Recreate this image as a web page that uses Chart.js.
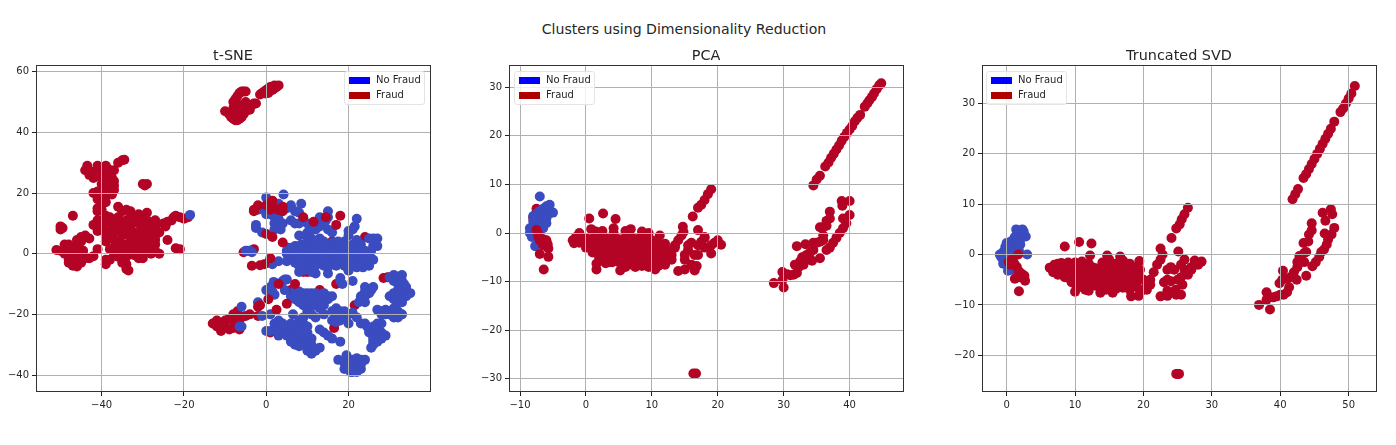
<!DOCTYPE html>
<html>
<head>
<meta charset="utf-8">
<title>Clusters using Dimensionality Reduction</title>
<script src="https://cdn.jsdelivr.net/npm/chart.js@4/dist/chart.umd.min.js"></script>
<style>
    html, body { margin: 0; padding: 0; background: #fff; width: 1396px; height: 445px; overflow: hidden; font-family: "DejaVu Sans", sans-serif; }
    body { filter: blur(0.35px); }
    canvas { position: absolute; top: 45px; }
    #suptitle { position: absolute; left: 0; width: 1368px; top: 20px; text-align: center; font-size: 14.1px; line-height: 18px; color: #262626; }
    .legend { position: absolute; top: 71px; width: 79px; height: 32px; background: rgba(255,255,255,0.8); border: 1px solid #e4e4e4; border-radius: 3px; font-size: 10px; color: #262626; }
    .legend i { position: absolute; left: 4px; width: 21px; height: 7px; }
    .legend span { position: absolute; left: 31px; line-height: 12px; }
</style>
</head>
<body>
<div id="suptitle">Clusters using Dimensionality Reduction</div>
<canvas id="tsne-chart" width="440" height="375" style="left:0"></canvas>
<canvas id="pca-chart" width="440" height="375" style="left:473px"></canvas>
<canvas id="svd-chart" width="440" height="375" style="left:946px"></canvas>
<div class="legend" style="left:344px"><i style="top:5px;background:#0000ff"></i><span style="top:2px">No Fraud</span><i style="top:20px;background:#b00000"></i><span style="top:17px">Fraud</span></div>
<div class="legend" style="left:514px"><i style="top:5px;background:#0000ff"></i><span style="top:2px">No Fraud</span><i style="top:20px;background:#b00000"></i><span style="top:17px">Fraud</span></div>
<div class="legend" style="left:986px"><i style="top:5px;background:#0000ff"></i><span style="top:2px">No Fraud</span><i style="top:20px;background:#b00000"></i><span style="top:17px">Fraud</span></div>
<script>
// axis limits and tick labels
const tsneXRange = [-55.96, 39.8];
const tsneYRange = [-45.6, 61.8];
const tsneXTicks = [-40, -20, 0, 20];
const tsneYTicks = [-40, -20, 0, 20, 40, 60];
const pcaXRange = [-11.67, 48.1];
const pcaYRange = [-32.7, 34.3];
const pcaXTicks = [-10, 0, 10, 20, 30, 40];
const pcaYTicks = [-30, -20, -10, 0, 10, 20, 30];
const svdXRange = [-3.6, 54];
const svdYRange = [-27.3, 37.4];
const svdXTicks = [0, 10, 20, 30, 40, 50];
const svdYTicks = [-20, -10, 0, 10, 20, 30];

// t-SNE
const tsneFraudBack = [
    [-1.5,52.5],[-1,53],[-0.5,53.5],[0,54],[0.5,54.5],[1,55],[1.5,55],[2,55.5],[2.5,55],[3,55.5],[1.5,54],[0.5,53],[2,54.5],[-0.2,52.8],
    [-10,47],[-9,46],[-8.5,45],[-8,44.5],[-7.5,44],[-7,44],[-6.5,44.5],[-6,45],[-5.5,46],[-5,47],[-4.5,48],[-4,48.5],[-3.5,49],[-3,49.5],[-2.5,49.5],
    [-8,50],[-7.5,51],[-7,52],[-6.5,53],[-6,53.5],[-5.5,53.5],[-5,53.5],[-8,48],[-7.5,47],[-7,46],[-6.5,48],[-6,49],[-7,49],[-5,50],[-4,47.5],
    [-43.5,29],[-44,27.5],[-43,26],[-42,25],[-41,29],[-40,27],[-39,29],[-38.5,28],[-38,26],[-37,27.5],[-36,30],[-35,30.8],[-34.5,31],[-38,25],[-37,24],[-39,24],[-40,23],[-38,22],[-37,21],[-40,21],[-41,20.5],[-42,20],[-38,20],[-37.5,19.5],[-39,19],[-41,18],[-40,17.5],[-39,17],
    [-37.5,25],[-39,26],[-37,22.5],[-38.5,21],[-40,25],[-42,27],
    [-30,23],[-29,23],[-29.5,22.5],[-41,15],[-41,14],[-40,14.5],[-36,15.5],[-47,12.5],[-50,9],[-50,8],[-49.5,8.5],
    [-42,9.5],[-41,11],[-41,9],[-41,7.5],[-40,8.5],[-39,12.5],[-39,10],[-39,8],[-39,6],[-39,4],[-38,12],[-36,12],[-35,14],[-34,14.5],[-33,14],[-33,12],[-32,11],[-31,13],[-29,13.5],[-29,11],[-28,9],[-27,11],[-27,9],[-35,10],[-36,8],[-35,6],[-37,7],[-36,4],[-33,9],[-32,7],[-30,8],[-28,6.5],[-27,6],[-26,7],[-33,5],[-31,5],[-29,4],[-28,3],[-27,3],[-32,3],[-34,3],[-33,2],[-31,2],[-29,2],[-35,1],[-33,0],[-30,0.5],[-28,0],[-26,0],
    [-34,11],[-31,10],[-30,6],[-32,5],[-30,3],[-34,1],[-32,1],[-36,0],[-37,2],[-38,9],[-37,11],[-29,7],[-27,4.5],[-32,-0.5],
    [-30,11],[-33,7],[-31,7],[-29,9],[-35,8],[-35,3],[-30,9],[-37,9],[-38,6],[-37,4.5],[-40,11],[-29,1],[-31,-1],[-27,1],[-27.5,4],
    [-24,4.5],[-25,10],[-24,10.5],[-23,11],[-22.5,12],[-22,12.5],[-21,12],[-20,11.5],[-19,12],[-22,1.8],[-21,1.5],[-24.5,9],
    [-41,1.5],[-38,1.5],[-37,1],[-38,-2],[-39,-2],[-39,-3.5],[-37,-0.5],[-36,-1],[-35,-1.5],[-34,-1],[-35,-3],[-34,-3.5],[-34,-5],[-33.5,-5.5],[-31,-1.5],[-30,-1.5],
    [-51,1.2],[-50,1],[-49,3],[-48,3],[-48,1.5],[-49,0],[-48,-2],[-47,-4],[-46,-3.5],[-47,-2],[-47,0],[-45,-0.5],[-46,1.5],[-44.5,1],[-44,-1.5],[-45,-3],[-43,-1.5],[-42,-0.8],[-46,4.5],[-45,5.5],[-44,6],[-43,5],[-46,-2],
    [-48,-3],[-46,-1],[-45,1],[-49,2],[-47,2],[-47.5,-1],[-46,-4.2],[-45,4],
    [-13,-23],[-12,-22],[-12,-24],[-11,-25.5],[-10,-24],[-10,-22],[-9,-21.5],[-9,-25],[-8,-24.5],[-8,-22],[-8,-20],[-7,-19],[-7,-23],[-6,-21],[-5,-20.5],[-4,-20],[-6.5,-25],[-11,-23],
    [-5.5,0.5],[-3,1.5],[9,-6],[10,-6],[16.5,-24.5],[21.5,-17],[28.5,-8],[29.5,-7.8],[24,5.5],[16,4],[20,-5.5],[1,-26],[-2,-20.5],[17,-10],[13,-12],[6,-12]
];
const tsneNoFraud = [
    [-18.5,12.8],[4.2,19.5],[0,18.5],[0.5,16],[8.5,16.5],[6,16],[3,16.5],[5,15],[7,14],[8,13.5],[-2,14.5],[-1,15],[0,13],[1,13],[2,12],[3,11.5],[2,10],[3,9],[3.5,8],[2,8],[-2.5,9.5],[-2.5,8.5],[-1,7],
    [4,10],[6,11],[7,10],[8,10],[9,11],[10,10],[13,12],[15,14],[15,12],[14.5,11],[14,10],[13,9],[12,8],[11,8],[10,7],[22,11.5],[21.5,9],[21,8],[20,7.5],[20,6],[15,8],[16,7],[8,6],[9.5,6],[11,5],[13,5],[14,4],
    [26,5],[27,5],[25,5],[22,4.5],[21,3],[19,4],[18,3],[26,2.5],[27,2.5],[25.5,1],
    [5,1],[6,1],[7,1],[8,1],[9,1],[10,2],[11,2],[12,2],[13,1],[14,1],[15,2],[16,2],[17,1],[18,2],[19,1.5],[20,1],[21,1],[22,2],[23,3],
    [6,-1],[7,-1],[8,-1],[9,-1.5],[10,-1],[11,-1],[12,-1],[13,-1],[14,-1.5],[15,-1],[16,-1],[17,-0.5],[18,-1],[19,-1],[20,-1],[21,-1],[22,-1],
    [7,-3],[9,-3],[11,-3],[13,-3],[14,-4],[16,-3],[18,-3],[19,-4],[21,-3],[23,-4],[24,-3],[25,-2],[26,-2],[24,-1],[23.5,-4.5],[25,-4],[22,-4.5],
    [5,0],[6.5,0],[8,0],[9.5,0],[11,0],[12.5,0],[14,0],[15.5,0],[17,0],[18.5,0],[20,0],[21.5,0],[5.5,2],[7,2.5],[8.5,3],[10,3.5],[12,3.5],[14,3],[16,3.5],[17.5,4],[19,3],[20.5,2.5],
    [8,-2],[10,-2],[12,-2],[14,-2],[15,-3],[17,-2],[19,-2],[21,-2],[23,-2],[22,0.5],[23,0.5],[24,1],[8,-4],[10,-4.5],[12,-4],[15,-4.5],[17,-4],
    [3,-2.5],[5,-2.5],[1.5,-3.5],[0.5,-3],[-5,1],[-4.5,1],[-4,1],[-3.5,0.5],
    [8,-6],[9,-5.5],[12,-6.5],[11,-6],[15,-6.5],[20,-5.5],[18,-8],[18,-9],[18.5,-10],[21,-9],[1.8,-9.3],[4,-9],[4.5,-8.5],
    [30,-7.8],[31,-7],[32,-7.5],[33,-7],[33,-9],[33.5,-10],[32,-9],[31,-9],[32,-12],[31,-13],[31,-15],[33,-14],[34,-14],[35,-13],[34,-12.5],[32,-14],[29,-20],[30,-19],[29,-18.5],[31,-18],[32,-19],[33,-20],[31,-21],[27,-18.5],[28,-20],[32,-21],
    [32,-16],[33,-16],[30,-20],[31,-19.5],[32,-10],[33,-11],[34,-11],[30,-14],[28,-19],
    [25,-13],[24,-14],[23,-15],[24,-16],[22.5,-16],[26,-11],[25.5,-12],[24,-11],[23,-14],[24,-12.5],
    [0,-12],[1,-11],[1.5,-12.5],[2,-13.5],[5,-8.5],[4.5,-12],[6,-14],[7,-13],[8,-12.5],[9,-13],[10,-13],[11,-13],[12,-13],[13,-14],[14,-13],[15,-14],[16,-14],[7,-15],[9,-15],[11,-15],[13,-15],[15,-15],[9,-17],[10,-18],[12,-17],[14,-17],[8,-16],[13,-18],[10,-19],[11,-20],[12,-21],[14,-20],
    [7,-12],[9,-14],[11,-14],[13,-16],[10,-16],[12,-15.5],[11,-17],
    [-6,-17.5],[-6,-24],[-6.5,-24],[-1,-20.5],[1,-20],[6.5,-20],[-2,-16],[0,-25.5],[1,-25.5],
    [16,-19],[17,-20],[18,-19],[19,-20],[20,-20],[17,-18],[18,-22],[16,-22],[20,-23],[17,-21],[19,-19],[21,-19.5],[22,-21],[23,-23],[17,-22.5],[19,-21],
    [2,-23],[3,-22],[4,-23],[5,-24],[3,-25],[4,-26],[3,-27],[5,-27],[6,-26],[5,-25],[7,-25],[8,-22],[9,-23],[8,-25],[9,-27],[10,-26],[7,-27],[6,-29],[7,-30],[8,-29],[9,-30],[10,-28],[11,-28],[11,-30],[10,-32],[11,-33],[12,-32],[13,-31],[9,-21],[13,-25],[14,-26],[15,-27],[16,-28],[7,-28.5],[18,-29],
    [7,-24],[4,-24.5],[6,-23],[8,-27],[10,-24],[8,-30.5],[7.5,-26],[9,-25],[6,-28],
    [24,-23],[25,-25],[26,-24],[27,-23],[28,-23],[26,-27],[25,-26],[27,-26],[28,-26],[29,-27],[27,-28],[28,-28],[26,-29],[27,-29],[25.5,-31],[26,-30],[27,-25],[26,-25.5],[24.5,-24],[26,-28],
    [19.5,-33.5],[17.5,-35],[19,-36],[20,-36],[21,-35],[22,-34.5],[23,-35],[24,-35],[19,-38],[20,-38],[21,-39],[22,-38],[23,-38],[22,-36.5],[20.5,-39],[22,-39],[21,-37],[21,-36],[20,-37],[22,-37],[23,-36.5]
];
const tsneFraudFront = [
    [-3,14.5],[-2,16],[0,16],[1.5,17.5],[2,15],[3,14.5],[4,14],[4,15.5],[-3,14],[1,14.5],[0,6.5],[1.5,5.5],[4,3.7],
    [-3.5,-4],[-1.5,-3.8],[-0.5,-3.5],[1,-1.5],[7,-10],[3,-10],[0.5,-15],[-1.5,-17],[-2,-17.5],[2.5,-18.5],[5,-16.5],
    [18,12.5],[17,9.5],[11.5,10.5],[9,12],[14.5,12]
];

// PCA
const pcaFraudBack = [[-7.5,5],[-8,3.2],[-7.5,2],[-7,2.5]];
const pcaNoFraud = [
    [-7,7.5],[-5.5,5.8],[-6,5.5],[-6.5,5],[-5,4.2],[-5.5,4],[-7,4.5],[-7.5,4],[-8,3.5],[-6,3],[-7,3],[-8,2.5],[-6,2],[-6.5,2],[-7,2],[-8,1.5],[-8.5,1],[-7.5,1],[-8.5,0],[-8,0.5],[-7,1],[-8,-0.5],[-8.2,-0.8],[-7.5,-1],[-7.7,-2.7],[-6.5,3.5],[-7.5,3],[-6.5,1]
];
const pcaFraudFront = [
    [-7.5,0.6],[-7.3,0],[-7.2,-0.8],[-7,-1],[-6.5,-1.3],[-6,-1.5],[-6,-2],[-5.8,-2.3],[-5.7,-3.2],[-7,-4.3],[-5.7,-4.9],[-6.4,-7.5],[-6.5,-2.5],[-7,-1.5],
    [0.5,3],[2.6,4],[4.5,2.9],[0.8,0.8],[1.5,0.3],[2.5,0.4],[4.2,1],[4.2,0],[6.8,0.8],[6,0.4],[8.5,0.3],[9.5,0],[11.2,-0.5],[-1,0],[-1.5,-0.8],[-2,-1.5],
    [-1,-1],[0,-1],[1,-1.2],[2,-0.8],[3,-1.1],[4,-1],[5,-1.3],[6,-0.9],[7,-1],[8,-1.2],[9,-1],[10,-1.5],
    [-1.8,-2.1],[-1,-2],[0,-2.3],[1,-2],[2,-2.2],[3,-1.9],[4,-2],[5,-2.1],[6,-2],[7,-2.3],[8,-2],[9,-2.2],[10,-2.5],[11,-3],
    [0,-3],[1,-3.2],[2,-3],[3,-3.1],[4,-3],[5,-3.2],[6,-3],[7,-3],[8,-3.3],[9,-3],[10,-3.1],[11,-2.6],[12,-3.5],[13,-3.5],
    [1,-4],[2,-4.2],[3,-4],[4,-4],[5,-4.1],[6,-4],[7,-4.2],[8,-4],[9,-4],[10,-4.1],[11,-4],[12,-4.2],[13,-4.5],
    [3,-5.2],[4,-5],[5,-5],[6,-5.2],[7,-5],[8,-5],[9,-5.1],[10,-5],[11,-5.2],[12,-5],
    [5,-6],[6,-6],[7,-6.1],[8,-6],[9,-6],[10,-6.2],[11,-6],[12,-5.9],
    [7,-6.5],[9.5,-7],[10.5,-7.5],[5.2,-7.7],[6,-6.7],[1.6,-6.3],[1.6,-7.5],
    [11.5,-4.5],[12.5,-4.5],[13.5,-3],[12,-2.2],[11,-2],[10,-6.8],[11,-6.8],[12,-6.5],[13,-5.5],[7.5,-7],[8.5,-6.8],[6,-7],[4,-6],[3,-6.2],[2,-5],[3.5,-6],
    [13.5,-2.5],[14,-1.5],[14.5,-0.5],[14.8,0.2],[14.7,1.3],[16.2,3.4],[17,5.2],[17.5,5.8],[18,6.8],[18.5,8],[19,9],
    [14,-7.8],[15,-7.5],[16,-6.5],[16.5,-7.7],[16.8,-6.8],[15,-5.5],[15,-4.5],[15.5,-3.5],[15.5,-2.5],[16,-2],[16.5,-4.5],[17,-4.5],[17,-2.5],[17.5,-1.8],[18,-1],[18,-3],[19,-4.2],[19,-2.5],[19.5,-2],[20,-1.5],[20.5,-2.4],[17,0.6],[18,-0.8],
    [16.3,-28.9],[16.7,-28.9],
    [34.5,9.8],[35,11],[35.5,11.8],[36.3,13.7],[36.8,14.5],[37.2,15.5],[37.6,16.3],[38,17.2],[38.4,18],[38.8,19],[39.2,19.8],[39.6,20.6],[40,21.3],[40.4,22],[40.8,23],[41.2,23.7],[41.6,24.3],[42.3,26],[42.7,26.7],[43,27.3],[43.4,28],[43.7,28.7],[44.1,29.6],[44.5,30.4],[44.8,30.8],
    [28.5,-10.3],[29.8,-8],[29.8,-9.7],[30,-11.2],[30.5,-8.5],[31,-8.7],[31.5,-8.6],[32,-8.2],[31.7,-6.5],[32,-2.7],[32.3,-7],[32.5,-5.8],[32.8,-5],[33,-6.5],[33.5,-5.5],[33.5,-4.5],[33.3,-2.3],[34,-4],[34.3,-5.7],[34.5,-3.5],[34.5,-2],[35,-2],[35.5,-1.8],[35.5,-5.2],[36,-1.5],[35.5,1.2],[36,1.2],[36.5,1.5],[36.5,2.5],[37,3],[37,4.4],[36,-0.5],[36.5,-3.5],[37,-3],[37.5,-2],[38,-1],[38.5,0],[39,1],[39.5,2],[40,3.7],[39,3],[38.9,5.6],[38.8,6.6],[40,6.6]
];

// Truncated SVD
const svdFraudBack = [];
const svdNoFraud = [
    [1.4,5],[2.3,5],[2.5,4.5],[2.8,3.6],[1.5,4],[2,4],[1,3],[1.5,3],[2,3],[0.5,2.5],[1,2],[1.5,2],[0,2.3],[-0.2,1.5],[0.5,1],[1,1],[1.5,1],[-0.5,0.5],[0,0],[0.5,0],[1,0],[-1,0],[-0.8,-0.5],[-0.5,-1],[0,-1],[0.5,-1],[-0.5,-1.8],[0.2,-3.2],[0.8,-3],[3,0],[2,2],[1.8,0.8],[0.5,1.5],[1.2,3.5],[0.8,2.5],[0,1]
];
const svdFraudFront = [
    [1.7,0],[0.8,-1],[0.5,-2],[1,-1.5],[1.2,-2],[1.5,-2.5],[1.8,-3.3],[2.2,-3.8],[2.6,-4.2],[1.2,-4.8],[2.7,-5.2],[1.8,-7.3],[2,-4.5],[0.3,-1.5],
    [8.5,1.6],[10.6,2.5],[12.4,2.2],[12.2,-0.2],[14.7,-0.2],[16.6,-0.4],[19.4,-1.3],[22.5,1.2],[24.1,3.3],[25.1,0.6],
    [6.3,-2.6],[7,-2],[7,-3.2],[8,-1.7],[8,-2.6],[8,-3.6],[9,-1.6],[9,-2.7],[9,-3.7],[9,-4.6],[10,-1.6],[10,-2.6],[10,-3.7],[10,-4.8],[10,-5.8],[10,-7.4],
    [11,-1.4],[11,-2.8],[11,-3.8],[11,-5],[11,-6],[12,-1.8],[12,-3],[12,-4.2],[12,-5.2],[12,-6.3],[12,-7.2],[13,-2.7],[13,-3.8],[13,-5],[13,-6.2],[13.7,-7.6],
    [14,-1.6],[14,-3],[14,-4.2],[14,-5.4],[14,-6.5],[15,-1],[15,-2.4],[15,-3.6],[15,-5],[15,-6.2],[15.5,-7.6],[16,-1.8],[16,-3],[16,-4.4],[16,-5.6],[16,-6.8],
    [17,-1.2],[17,-2.6],[17,-3.8],[17,-5],[17,-6.6],[18,-1.8],[18,-3],[18,-4.2],[18,-5.6],[18,-7],[18.2,-8.3],[19,-3.6],[19,-5],[19,-6.2],[19.3,-8.2],[19.5,-3],
    [6.8,-3.5],[7.5,-4],[8.5,-4.5],[9.5,-5.5],[7.5,-1.8],[8.5,-2],[9.5,-2.2],[10.5,-2.1],[10.5,-3.2],[10.5,-4.3],[10.5,-5.3],[10.5,-6.5],[11.5,-2],[11.5,-3.4],[11.5,-4.5],[11.5,-5.6],[11.5,-7],[12.5,-2.5],[12.5,-3.6],[12.5,-4.7],[12.5,-5.8],
    [13.5,-3.3],[13.5,-4.4],[13.5,-5.6],[14.5,-2],[14.5,-3.3],[14.5,-4.8],[14.5,-5.9],[14.5,-7],[15.5,-2],[15.5,-3],[15.5,-4.3],[15.5,-5.5],[16.5,-1.5],[16.5,-2.7],[16.5,-4],[16.5,-5.2],[16.5,-6.4],[17.5,-2],[17.5,-3.5],[17.5,-4.6],[17.5,-5.8],[18.5,-2.5],[18.5,-4],[18.5,-5],[18.5,-6.4],[19.5,-4.5],[20,-5],[19.5,-7.5],[20.5,-7],[21,-6],
    [20,-7],[20.5,-6],[21,-5],[21.5,-3.5],[22,-2],[22.5,-1],[22.8,0],
    [24.8,5.2],[25.3,6],[25.6,7],[26,8],[26.5,9.3],
    [22.5,-8.3],[23.5,-8.2],[23.5,-7.2],[24.7,-7],[24.8,-8],[25.5,-8],[23,-5.5],[23.5,-5],[24,-5.3],[23.5,-3],[24,-2.5],[24.5,-3],[25,-5],[25.5,-4.5],[25.7,-6],[25.5,-2],[26,-1],[26,-3],[26.5,-4],[27,-3],[27,-2.5],[27.5,-2],[27.5,-1.2],[28.5,-1.4],[28,-2],
    [25,-23.7],[24.8,-23.7],[25.2,-23.7],
    [41.8,11],[42.2,12],[42.6,13],[43.4,15.2],[43.8,16],[44.2,17],[44.6,18],[45,19],[45.4,20],[45.8,21],[46.2,22],[46.6,23],[47,24],[47.4,25],[47.9,26.4],[48.8,28.3],[49.2,29],[49.6,30],[50,31],[50.4,32],[50.9,33.5],
    [36.9,-10],[38,-7.5],[38,-9],[38.5,-10.9],[39,-8.5],[39.5,-8.3],[40,-8],[40.5,-8],[41,-7.5],[41.3,-6.5],[39.9,-5.7],[40.3,-5],[40.4,-3.2],[41,-4.8],[41.5,-4.5],[42,-3.5],[42.4,-5],[42.5,-2.5],[42.5,-1.5],[43,-1],[43.5,-1.5],[42.8,-0.3],[43.5,0.3],[43.8,0.5],[43.8,-4.2],[43.4,2.3],[44.1,2.6],[44.2,4],[44.6,4.8],[44.6,6.2],[44.7,-2.3],[45.2,-1.5],[45.7,-0.5],[46,0.5],[46.4,1],[46.8,2],[47,3],[47.5,4],[47.9,5.3],[46.5,4.2],[46.2,8.3],[46.6,6.7],[47.4,9],[47.6,8]
];

const RED = '#b40426';
const BLUE = '#3b4cc0';

// draws the top and right spines as well as the left and bottom ones
const framePlugin = {
    id: 'frame',
    afterDraw(chart) {
        const { ctx, chartArea: a } = chart;
        ctx.save();
        ctx.strokeStyle = '#333';
        ctx.lineWidth = 1;
        ctx.strokeRect(Math.round(a.left) + 0.5, Math.round(a.top) - 0.5, Math.round(a.right - a.left), Math.round(a.bottom - a.top));
        ctx.restore();
    }
};

const toPoints = list => list.map(p => ({ x: p[0], y: p[1] }));
const minusSign = v => String(v).replace('-', '\u2212');

function axis(range, tickValues, fit) {
    return {
        type: 'linear',
        min: range[0],
        max: range[1],
        afterBuildTicks: scale => { scale.ticks = tickValues.map(v => ({ value: v })); },
        afterFit: fit,
        grid: { color: '#b0b0b0', lineWidth: 1, z: 1, tickColor: '#222', tickLength: 4 },
        border: { display: false },
        ticks: {
            autoSkip: false,
            maxRotation: 0,
            padding: 3,
            color: '#262626',
            font: { family: '"DejaVu Sans"', size: 10 },
            callback: v => minusSign(v)
        }
    };
}

function renderPanel(id, title, xRange, yRange, xTicks, yTicks, fraudBack, noFraud, fraudFront) {
    const ctx = document.getElementById(id).getContext('2d');
    const series = (label, list, color, order) => ({
        label: label,
        data: toPoints(list),
        backgroundColor: color,
        borderWidth: 0,
        pointRadius: 5,
        order: order
    });
    new Chart(ctx, {
        type: 'scatter',
        data: {
            datasets: [
                series('Fraud', fraudFront, RED, 1),
                series('No Fraud', noFraud, BLUE, 2),
                series('Fraud', fraudBack, RED, 3)
            ]
        },
        options: {
            responsive: false,
            animation: false,
            layout: { padding: { right: 10 } },
            scales: {
                x: axis(xRange, xTicks, s => { s.height = 28; }),
                y: axis(yRange, yTicks, s => { s.width = 36; })
            },
            plugins: {
                legend: { display: false },
                tooltip: { enabled: false },
                title: {
                    display: true,
                    text: title,
                    fullSize: false,
                    color: '#262626',
                    font: { family: '"DejaVu Sans"', size: 14.4, weight: 'normal' },
                    padding: { top: 3, bottom: 1 }
                }
            }
        },
        plugins: [framePlugin]
    });
}

renderPanel('tsne-chart', 't-SNE', tsneXRange, tsneYRange, tsneXTicks, tsneYTicks, tsneFraudBack, tsneNoFraud, tsneFraudFront);
renderPanel('pca-chart', 'PCA', pcaXRange, pcaYRange, pcaXTicks, pcaYTicks, pcaFraudBack, pcaNoFraud, pcaFraudFront);
renderPanel('svd-chart', 'Truncated SVD', svdXRange, svdYRange, svdXTicks, svdYTicks, svdFraudBack, svdNoFraud, svdFraudFront);
</script>
</body>
</html>
